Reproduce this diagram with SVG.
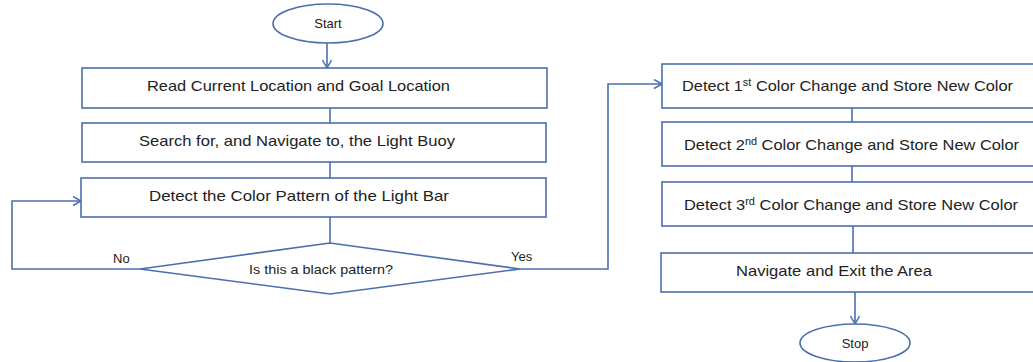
<svg xmlns="http://www.w3.org/2000/svg" width="1033" height="362" viewBox="0 0 1033 362">
  <style>
    .box { fill: #ffffff; stroke: #4a6fb0; stroke-width: 1.6; }
    .conn { fill: none; stroke: #4a6fb0; stroke-width: 1.6; }
    .lbl { font-family: "Liberation Sans", Arial, sans-serif; fill: #222222; font-size: 15px; }
    .small { font-size: 13px; }
    .yn { font-size: 13px; }
  </style>
  <defs>
    <marker id="arrow" markerUnits="userSpaceOnUse" markerWidth="12" markerHeight="12" refX="9" refY="5" orient="auto">
      <path d="M1,0.5 L9,5 L1,9.5" fill="none" stroke="#4a6fb0" stroke-width="1.5"/>
    </marker>
  </defs>
  <rect width="1033" height="362" fill="#ffffff"/>

  <g id="connectors">
    <path class="conn" d="M327,43 V68" marker-end="url(#arrow)"/>
    <path class="conn" d="M330,108 V123"/>
    <path class="conn" d="M330,162 V178"/>
    <path class="conn" d="M330,217 V243"/>
    <path class="conn" d="M140,269 H12 V201 H81" marker-end="url(#arrow)"/>
    <path class="conn" d="M520,269 H608 V84 H662" marker-end="url(#arrow)"/>
    <path class="conn" d="M852,108 V122"/>
    <path class="conn" d="M852,166 V182"/>
    <path class="conn" d="M853,226 V253"/>
    <path class="conn" d="M855,292 V324" marker-end="url(#arrow)"/>
    <text class="lbl yn" x="113" y="263">No</text>
    <text class="lbl yn" x="511" y="261">Yes</text>
  </g>

  <g id="start">
    <ellipse class="box" cx="328" cy="23.5" rx="55" ry="19.5"/>
    <text class="lbl small" x="328" y="28" text-anchor="middle">Start</text>
  </g>

  <g id="read-location">
    <rect class="box" x="82" y="68" width="465" height="40"/>
    <text class="lbl" x="147" y="91" textLength="303" lengthAdjust="spacingAndGlyphs">Read Current Location and Goal Location</text>
  </g>

  <g id="search-buoy">
    <rect class="box" x="82" y="123" width="464" height="39"/>
    <text class="lbl" x="139" y="145.5" textLength="316" lengthAdjust="spacingAndGlyphs">Search for, and Navigate to, the Light Buoy</text>
  </g>

  <g id="detect-pattern">
    <rect class="box" x="81" y="178" width="465" height="39"/>
    <text class="lbl" x="149" y="200.5" textLength="300" lengthAdjust="spacingAndGlyphs">Detect the Color Pattern of the Light Bar</text>
  </g>

  <g id="decision">
    <polygon class="box" points="140,269 330,243 520,269 330,294"/>
    <text class="lbl small" x="249" y="274" textLength="144" lengthAdjust="spacingAndGlyphs">Is this a black pattern?</text>
  </g>

  <g id="detect-1st">
    <rect class="box" x="662" y="64" width="380" height="44"/>
    <text class="lbl" x="682" y="91" textLength="331" lengthAdjust="spacingAndGlyphs">Detect 1<tspan font-size="10" dy="-5">st</tspan><tspan dy="5"> Color Change and Store New Color</tspan></text>
  </g>

  <g id="detect-2nd">
    <rect class="box" x="662" y="122" width="380" height="44"/>
    <text class="lbl" x="684" y="149.5" textLength="335" lengthAdjust="spacingAndGlyphs">Detect 2<tspan font-size="10" dy="-5">nd</tspan><tspan dy="5"> Color Change and Store New Color</tspan></text>
  </g>

  <g id="detect-3rd">
    <rect class="box" x="662" y="182" width="380" height="44"/>
    <text class="lbl" x="684" y="209.5" textLength="334" lengthAdjust="spacingAndGlyphs">Detect 3<tspan font-size="10" dy="-5">rd</tspan><tspan dy="5"> Color Change and Store New Color</tspan></text>
  </g>

  <g id="navigate-exit">
    <rect class="box" x="661" y="253" width="381" height="39"/>
    <text class="lbl" x="736" y="275.5" textLength="196" lengthAdjust="spacingAndGlyphs">Navigate and Exit the Area</text>
  </g>

  <g id="stop">
    <ellipse class="box" cx="855" cy="343" rx="55" ry="19"/>
    <text class="lbl small" x="855" y="348" text-anchor="middle">Stop</text>
  </g>
</svg>
